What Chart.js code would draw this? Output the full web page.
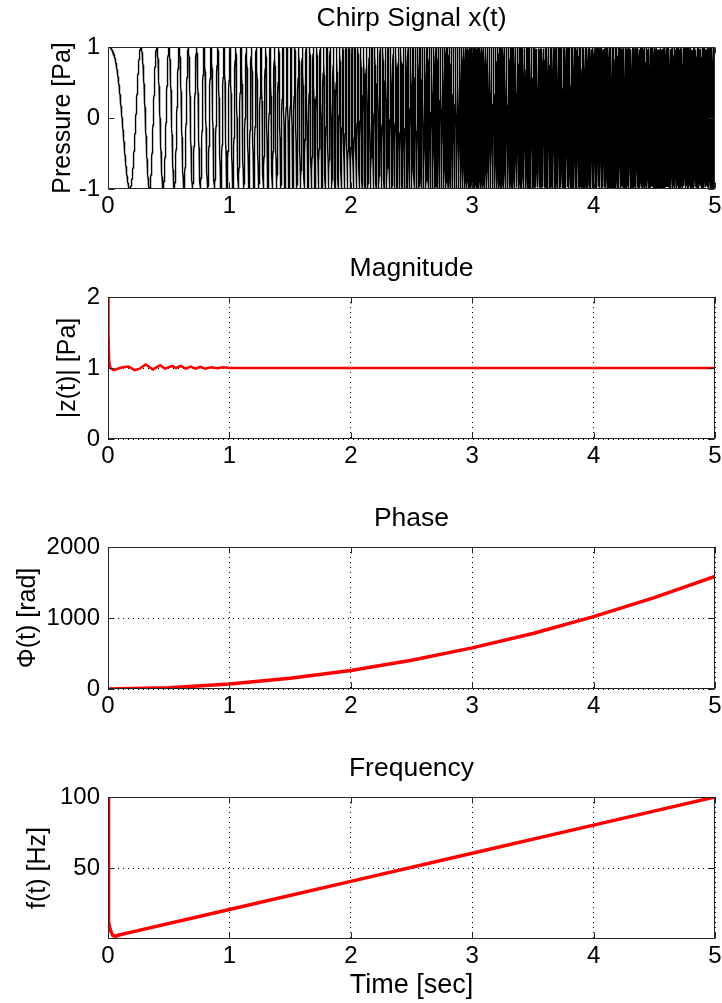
<!DOCTYPE html>
<html lang="en">
<head>
    <meta charset="UTF-8">
    <title>Chirp Signal</title>
    <script src="https://cdn.jsdelivr.net/npm/chart.js"></script>
    <style>
        body {
            margin: 0;
            background-color: #ffffff;
        }

        .figure {
            position: relative;
            width: 722px;
            height: 1003px;
        }

        .figure canvas {
            position: absolute;
            left: 0;
        }
    </style>
</head>
<body>
    <div class="figure">
        <canvas id="chirpChart" width="722" height="250" style="top:0px"></canvas>
        <canvas id="magChart" width="722" height="250" style="top:250px"></canvas>
        <canvas id="phaseChart" width="722" height="250" style="top:500px"></canvas>
        <canvas id="freqChart" width="722" height="253" style="top:750px"></canvas>
    </div>

    <script>
        // chirp sweep: ~1 Hz at t=0 up to 100 Hz at t=5 s
        const chirpF0 = 1;
        const chirpF1 = 100;
        const chirpT1 = 5;
        const sampleRate = 1000;

        const timeTicks = [0, 1, 2, 3, 4, 5];

        // magnitude |z(t)| readings
        const magTimes = [0, 0.004, 0.01, 0.02, 0.047, 0.08, 0.12, 0.17, 0.22, 0.26, 0.31, 0.37, 0.43, 0.47, 0.53, 0.56, 0.60, 0.64, 0.68, 0.72, 0.76, 0.80, 0.85, 0.90, 0.95, 1.0, 1.5, 2.0, 2.5, 3.0, 3.5, 4.0, 4.5, 5.0];
        const magValues = [2.0, 1.5, 1.09, 1.0, 0.97, 0.99, 1.01, 1.02, 0.97, 0.99, 1.05, 0.98, 1.04, 0.99, 1.03, 1.0, 1.03, 0.99, 1.02, 0.99, 1.015, 0.99, 1.01, 0.995, 1.01, 1.0, 1.0, 1.0, 1.0, 1.0, 1.0, 1.0, 1.0, 1.0];

        // unwrapped phase readings [rad]
        const phaseTimes = [0, 0.5, 1, 1.5, 2, 2.5, 3, 3.5, 4, 4.5, 5];
        const phaseValues = [0, 17, 69, 153, 261, 405, 579, 782, 1020, 1288, 1586];

        // instantaneous frequency readings [Hz]
        const freqTimes = [0, 0.002, 0.004, 0.008, 0.015, 0.025, 0.04, 0.06, 0.09, 0.13, 1, 2, 3, 4, 5];
        const freqValues = [100, 40, 18, 12, 8, 5, 2.5, 1.8, 2.8, 3.6, 20.8, 40.6, 60.4, 80.2, 100];

        // tick labels of each y axis
        const chirpTicks = [-1, 0, 1];
        const magTicks = [0, 1, 2];
        const phaseTicks = [0, 1000, 2000];
        const freqTicks = [50, 100];

        // sampled chirp x(t) = cos(2*pi*(f0*t + (f1-f0)/(2*T1)*t^2))
        const chirpPoints = [];
        for (let i = 0; i <= chirpT1 * sampleRate; i++) {
            const t = i / sampleRate;
            const cycles = chirpF0 * t + (chirpF1 - chirpF0) / (2 * chirpT1) * t * t;
            chirpPoints.push({ x: t, y: Math.cos(2 * Math.PI * cycles) });
        }

        const toPoints = (xs, ys) => xs.map((x, i) => ({ x: x, y: ys[i] }));

        Chart.defaults.font.family = '"Liberation Sans", Arial, Helvetica, sans-serif';
        Chart.defaults.color = '#000000';

        // MATLAB style box with inward tick marks
        const framePlugin = {
            id: 'frame',
            afterDraw(chart) {
                const { ctx, chartArea: a, scales } = chart;
                const left = Math.round(a.left) + 0.5;
                const right = Math.round(a.right) - 0.5;
                const top = Math.round(a.top) + 0.5;
                const bottom = Math.round(a.bottom) - 0.5;
                const len = 6;
                ctx.save();
                ctx.strokeStyle = '#262626';
                ctx.lineWidth = 1;
                ctx.beginPath();
                scales.x.ticks.forEach(t => {
                    const px = Math.round(scales.x.getPixelForValue(t.value)) + 0.5;
                    ctx.moveTo(px, bottom);
                    ctx.lineTo(px, bottom - len);
                    ctx.moveTo(px, top);
                    ctx.lineTo(px, top + len);
                });
                scales.y.ticks.forEach(t => {
                    const py = Math.round(scales.y.getPixelForValue(t.value)) + 0.5;
                    ctx.moveTo(left, py);
                    ctx.lineTo(left + len, py);
                    ctx.moveTo(right, py);
                    ctx.lineTo(right - len, py);
                });
                ctx.stroke();
                ctx.strokeRect(left, top, right - left, bottom - top);
                ctx.restore();
            }
        };

        function makeChart(id, cfg) {
            const ctx = document.getElementById(id).getContext('2d');
            return new Chart(ctx, {
                type: 'line',
                data: {
                    datasets: [{
                        data: cfg.points,
                        borderColor: cfg.color,
                        borderWidth: cfg.lineWidth,
                        pointRadius: 0,
                        tension: 0,
                        fill: false
                    }]
                },
                options: {
                    responsive: false,
                    devicePixelRatio: 1,
                    animation: false,
                    parsing: false,
                    normalized: true,
                    events: [],
                    layout: {
                        padding: { left: 0, right: 7, top: 0, bottom: 0 }
                    },
                    plugins: {
                        legend: { display: false },
                        tooltip: { enabled: false },
                        title: {
                            display: true,
                            text: cfg.title,
                            fullSize: false,
                            color: '#000000',
                            font: { size: 26.5, weight: 'normal' },
                            padding: { top: 3, bottom: 12.2 }
                        }
                    },
                    scales: {
                        x: {
                            type: 'linear',
                            min: 0,
                            max: 5,
                            afterBuildTicks: s => { s.ticks = timeTicks.map(v => ({ value: v })); },
                            afterFit: s => {
                                s.height = cfg.xHeight;
                                s.paddingLeft = 0;
                                s.paddingRight = 0;
                            },
                            ticks: {
                                padding: 3,
                                font: { size: 24 },
                                color: '#000000',
                                callback: v => String(v)
                            },
                            grid: {
                                display: cfg.grid,
                                drawTicks: false,
                                color: '#000000',
                                lineWidth: 1
                            },
                            border: { display: false, dash: [1, 4] },
                            title: {
                                display: !!cfg.xTitle,
                                text: cfg.xTitle || '',
                                color: '#000000',
                                font: { size: 27 },
                                padding: { top: 0, bottom: 1 }
                            }
                        },
                        y: {
                            type: 'linear',
                            min: cfg.yMin,
                            max: cfg.yMax,
                            afterBuildTicks: s => { s.ticks = cfg.yTicks.map(v => ({ value: v })); },
                            afterFit: s => { s.width = 108; },
                            ticks: {
                                padding: 8,
                                font: { size: 24 },
                                color: '#000000',
                                callback: v => String(v)
                            },
                            grid: {
                                display: cfg.grid,
                                drawTicks: false,
                                color: '#000000',
                                lineWidth: 1
                            },
                            border: { display: false, dash: [1, 4] },
                            title: {
                                display: true,
                                text: cfg.yTitle,
                                color: '#000000',
                                font: { size: 25 },
                                padding: { top: cfg.yTitlePad, bottom: 0 }
                            }
                        }
                    }
                },
                plugins: [framePlugin]
            });
        }

        makeChart('chirpChart', {
            title: 'Chirp Signal x(t)',
            points: chirpPoints,
            color: '#000000',
            lineWidth: 1.4,
            yMin: -1, yMax: 1, yTicks: chirpTicks,
            yTitle: 'Pressure [Pa]', yTitlePad: 48,
            grid: false, xHeight: 61
        });

        makeChart('magChart', {
            title: 'Magnitude',
            points: toPoints(magTimes, magValues),
            color: '#ff0000',
            lineWidth: 2.5,
            yMin: 0, yMax: 2, yTicks: magTicks,
            yTitle: '|z(t)| [Pa]', yTitlePad: 53,
            grid: true, xHeight: 61
        });

        makeChart('phaseChart', {
            title: 'Phase',
            points: toPoints(phaseTimes, phaseValues),
            color: '#ff0000',
            lineWidth: 3.5,
            yMin: 0, yMax: 2000, yTicks: phaseTicks,
            yTitle: 'Φ(t) [rad]', yTitlePad: 13,
            grid: true, xHeight: 61
        });

        makeChart('freqChart', {
            title: 'Frequency',
            points: toPoints(freqTimes, freqValues),
            color: '#ff0000',
            lineWidth: 3.5,
            yMin: 0, yMax: 100, yTicks: freqTicks,
            yTitle: 'f(t) [Hz]', yTitlePad: 23,
            grid: true, xHeight: 64,
            xTitle: 'Time [sec]'
        });
    </script>
</body>
</html>
